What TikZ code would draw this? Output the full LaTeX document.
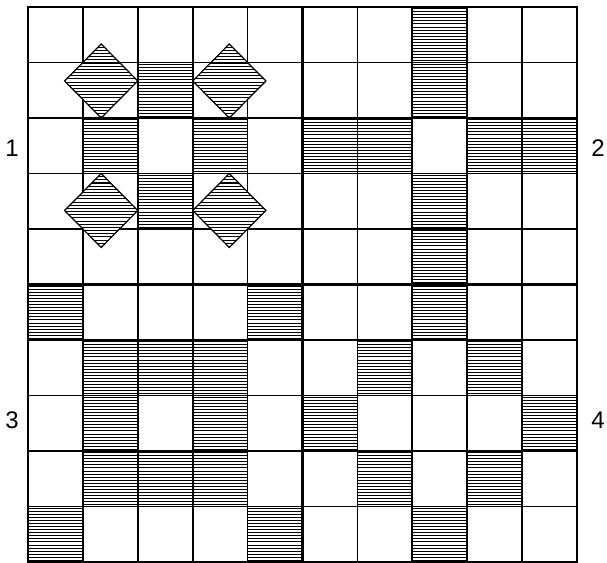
\documentclass[tikz,border=0pt]{standalone}
\usepackage{fontspec}
\setmainfont{Liberation Sans}
\tikzset{
  hatchline/.style={line width=1.05pt},
  diamondedge/.style={draw=black,line width=1.2pt,line join=miter},
  thingrid/.style={line width=1.7pt},
  thickgrid/.style={line width=3.6pt},
  quadlabel/.style={font=\fontsize{24}{24}\selectfont,inner sep=0pt}
}
\begin{document}
\begin{tikzpicture}
\useasboundingbox (0pt,0pt) rectangle (607pt,562pt);
\fill[white] (0pt,0pt) rectangle (607pt,562pt);
\begin{scope}[shift={(28pt,555pt)},x=54.9pt,y=-55.5pt]
  % hatched cells (col,row from top)
  \foreach \c/\r in {2/1,1/2,3/2,2/3,
                     7/0,7/1,7/3,7/4,5/2,6/2,8/2,9/2,
                     0/5,4/5,1/6,2/6,3/6,1/7,3/7,1/8,2/8,3/8,0/9,4/9,
                     7/5,6/6,8/6,5/7,9/7,6/8,8/8,7/9}
    \foreach \k in {1,...,18}
      \draw[hatchline] (\c,\r+\k/18-1/36) -- (\c+1,\r+\k/18-1/36);
  % grid
  \foreach \i in {1,2,3,4,6,7,8,9} {
    \draw[thingrid] (\i,0) -- (\i,10);
    \draw[thingrid] (0,\i) -- (10,\i);
  }
  \draw[thingrid] (0,0) rectangle (10,10);
  \draw[thickgrid] (5,0) -- (5,10);
  \draw[thickgrid] (0,5) -- (10,5);
  % diamonds
  \foreach \cx/\cy in {4/4,11/4,4/11,11/11} {
    \fill[white] (\cx/3+2/3,\cy/3) -- (\cx/3,\cy/3+2/3) -- (\cx/3-2/3,\cy/3) -- (\cx/3,\cy/3-2/3) -- cycle;
    \begin{scope}
      \clip (\cx/3+2/3,\cy/3) -- (\cx/3,\cy/3+2/3) -- (\cx/3-2/3,\cy/3) -- (\cx/3,\cy/3-2/3) -- cycle;
      \foreach \k in {1,...,23}
        \draw[hatchline] (\cx/3-2/3,\cy/3-2/3+\k/17.5) -- (\cx/3+2/3,\cy/3-2/3+\k/17.5);
    \end{scope}
    \draw[diamondedge] (\cx/3+2/3,\cy/3) -- (\cx/3,\cy/3+2/3) -- (\cx/3-2/3,\cy/3) -- (\cx/3,\cy/3-2/3) -- cycle;
  }
\end{scope}
\node[quadlabel] (n1) at (12pt,414pt) {1};
\node[quadlabel] (n2) at (598pt,414pt) {2};
\node[quadlabel] (n3) at (12pt,142pt) {3};
\node[quadlabel] (n4) at (598pt,142pt) {4};
\end{tikzpicture}
\end{document}
